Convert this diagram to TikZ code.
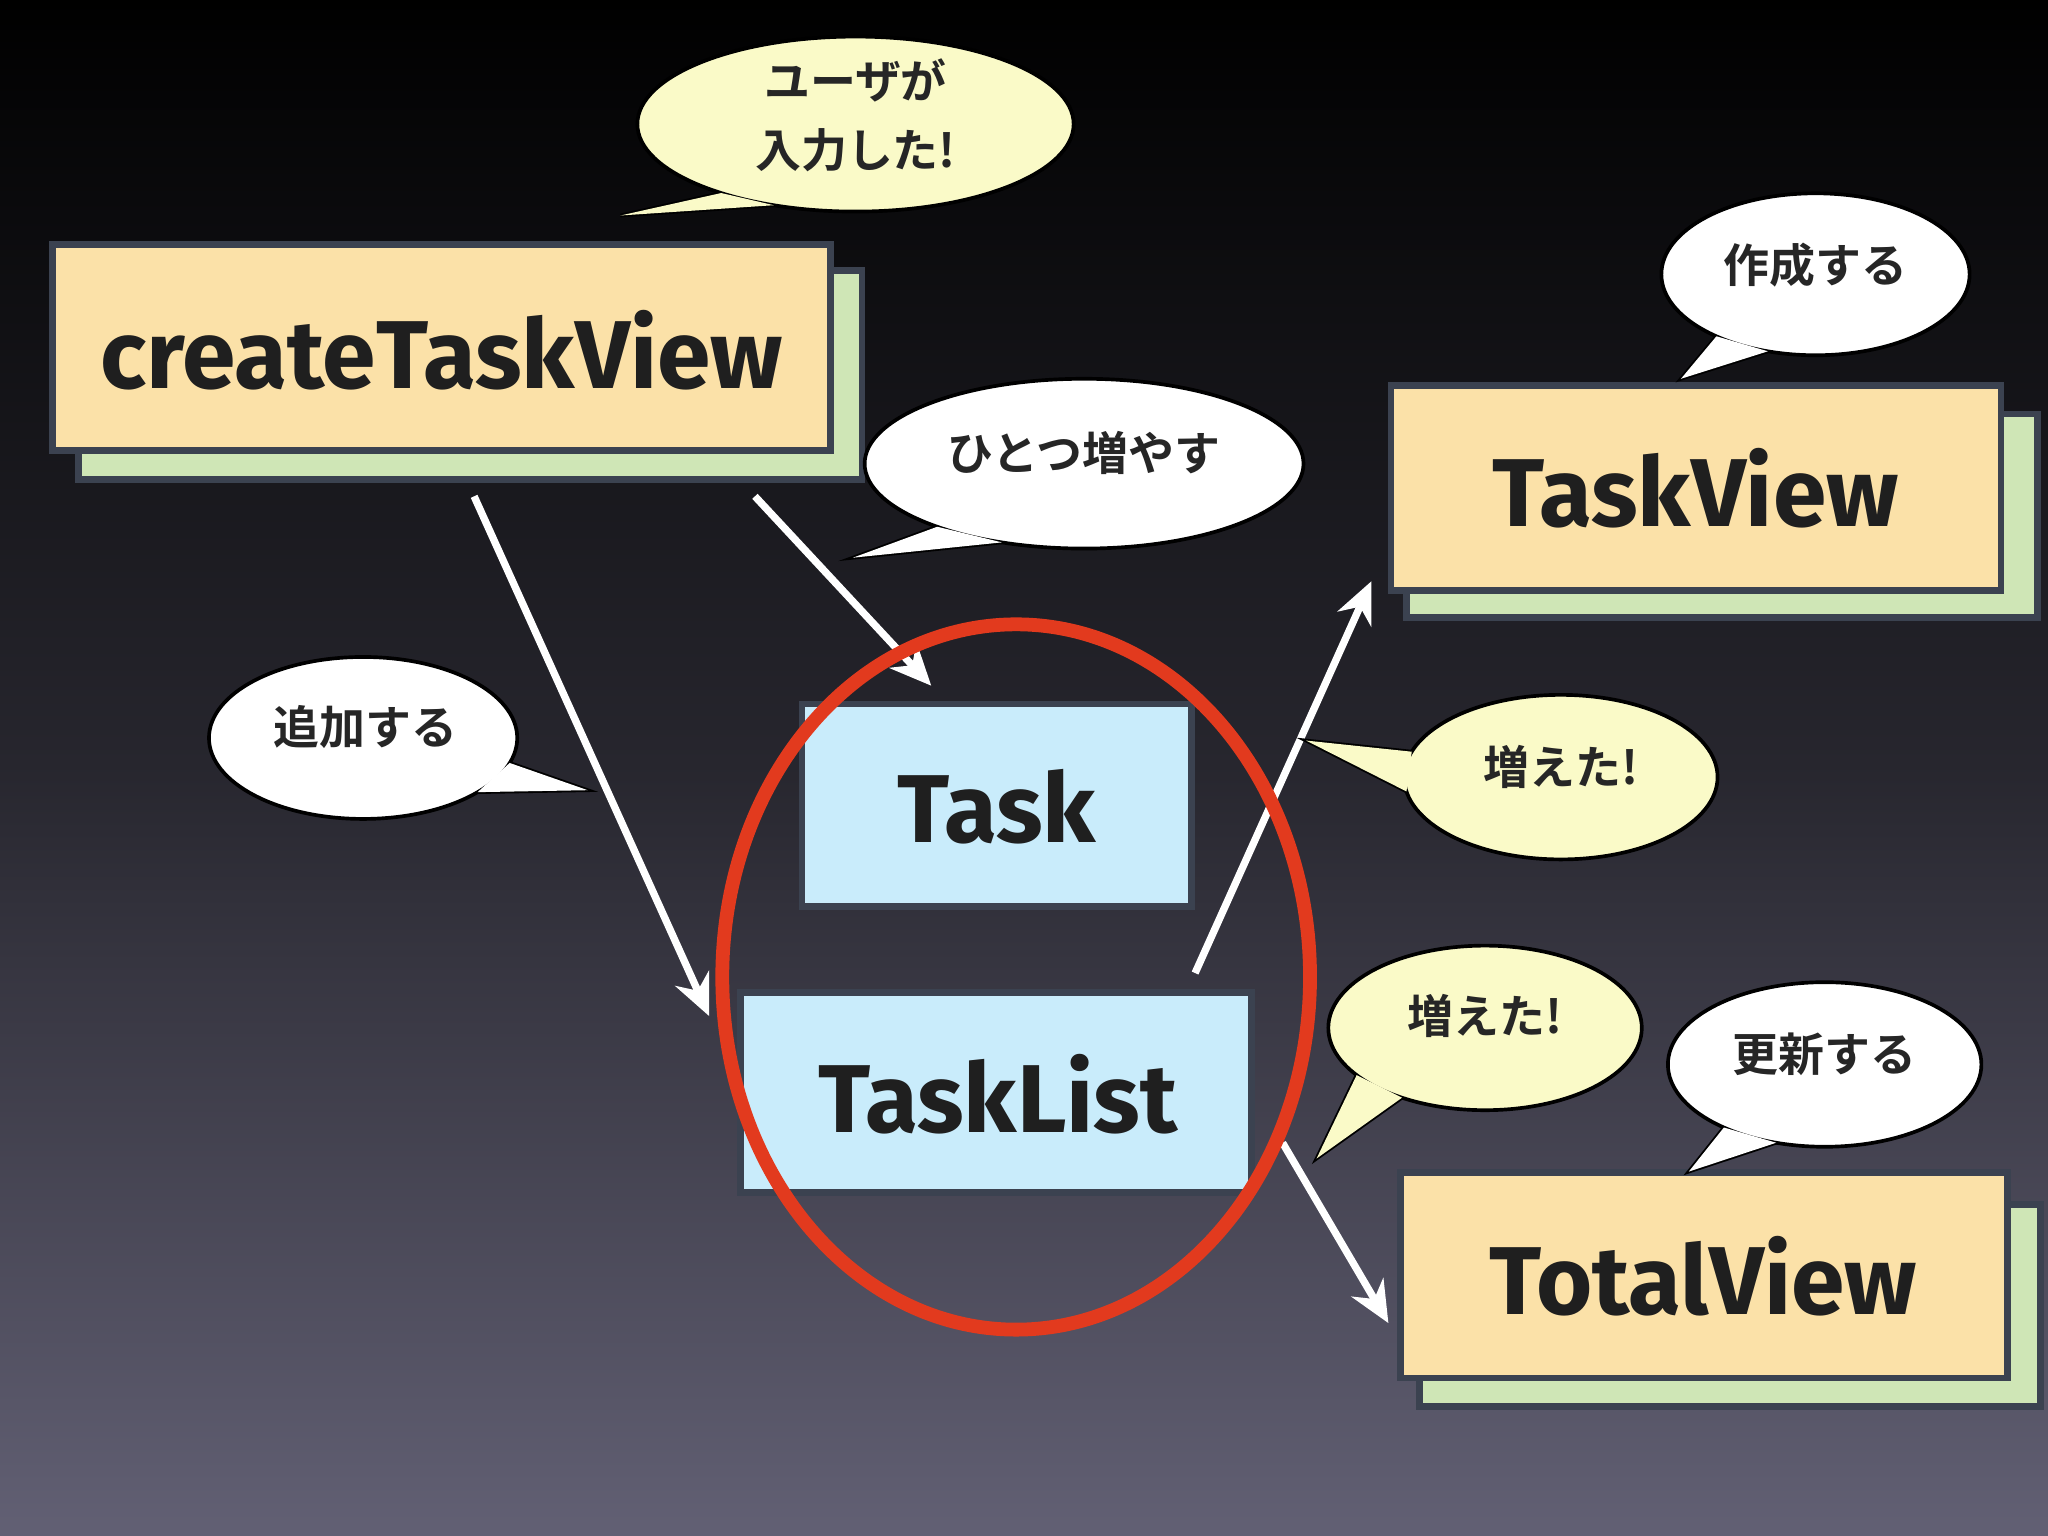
\documentclass[tikz,border=0pt]{standalone}
\usepackage{fontspec}
\setmainfont{Fira Sans}
\newfontfamily\cjk{Noto Sans CJK JP}[BoldFont={* Bold}]
\usetikzlibrary{shapes.geometric,arrows.meta,calc}
\definecolor{bgbot}{HTML}{626074}
\definecolor{boxline}{HTML}{3B4250}
\definecolor{ybox}{HTML}{FBE1A8}
\definecolor{gbox}{HTML}{CFE6B6}
\definecolor{bbox}{HTML}{C9ECFB}
\definecolor{ybub}{HTML}{FAFAC8}
\definecolor{ring}{HTML}{E23A1E}
\tikzset{
  back/.style={draw=boxline,line width=1.5pt,fill=gbox},
  frontbox/.style={draw=boxline,line width=1.5pt},
  boxtext/.style={font=\fontsize{21}{22}\selectfont\bfseries,text=black!88},
  conn/.style={draw=white,line width=1.6pt,-{Stealth[length=9pt,width=8pt]}},
  bubtext/.style={font=\cjk\bfseries\fontsize{10}{15}\selectfont,align=center,text=black!85}
}
% name, x, y, rx, ry, angle1, angle2, tip, fill, text
\newcommand{\mkbubble}[9]{%
 \coordinate (#1tip) at #8;
 \draw[black,line width=0.8pt,fill=#9] ($(#2,#3)+(#6:#4 and #5)$) -- (#1tip) -- ($(#2,#3)+(#7:#4 and #5)$);
 \draw[black,line width=0.8pt,fill=#9] (#2,#3) ellipse (#4 and #5);
 \fill[#9] ($(#2,#3)+(#6:#4 and #5)$) -- (#1tip) -- ($(#2,#3)+(#7:#4 and #5)$) -- cycle;
}
\begin{document}
\begin{tikzpicture}[x=0.01cm,y=-0.01cm]
\shade[top color=black,bottom color=bgbot,middle color=black!60!bgbot] (0,0) rectangle (1568,1176);
\useasboundingbox (0,0) rectangle (1568,1176);
% boxes
\draw[back] (60,207) rectangle (660,367);
\draw[frontbox,fill=ybox] (40,187) rectangle (636,345);
\node[boxtext] (ctv) at (338,268) {createTaskView};
\draw[back] (1077,317) rectangle (1560,473);
\draw[frontbox,fill=ybox] (1065,295) rectangle (1532,452);
\node[boxtext] (tv) at (1298,374) {TaskView};
\draw[back] (1087,922) rectangle (1562,1077);
\draw[frontbox,fill=ybox] (1072,898) rectangle (1537,1055);
\node[boxtext] (tot) at (1304,977) {TotalView};
\draw[frontbox,fill=bbox] (614,539) rectangle (912,694);
\node[boxtext] (task) at (763,618) {Task};
\draw[frontbox,fill=bbox] (567,760) rectangle (958,913);
\node[boxtext] (tl) at (764,838) {TaskList};
% arrows
\coordinate (a1) at (363,380); \coordinate (a1e) at (543,778);
\coordinate (a2) at (578,380); \coordinate (a2e) at (713,525);
\coordinate (a3) at (915,745); \coordinate (a3e) at (1050,445);
\coordinate (a4) at (982,875); \coordinate (a4e) at (1063,1013);
\draw[conn] (a1) -- (a1e);
\draw[conn] (a2) -- (a2e);
\draw[conn] (a3) -- (a3e);
\draw[conn] (a4) -- (a4e);
% ring
\draw[ring,line width=3pt] (778,748) ellipse (225 and 270);
% bubbles
\mkbubble{b1}{655}{95}{167}{67}{112}{128}{(475,165)}{ybub}
\node[bubtext] (b1) at (655,88) {ユーザが\\入力した!};
\mkbubble{b2}{1390}{210}{118}{62}{108}{130}{(1287,290)}{white}
\node[bubtext] (b2) at (1390,203) {作成する};
\mkbubble{b3}{830}{355}{168}{65}{112}{132}{(653,427)}{white}
\node[bubtext] (b3) at (830,347) {ひとつ増やす};
\mkbubble{b4}{278}{565}{118}{62}{18}{42}{(450,605)}{white}
\node[bubtext] (b4) at (280,557) {追加する};
\mkbubble{b5}{1195}{595}{120}{63}{170}{198}{(1000,567)}{ybub}
\node[bubtext] (b5) at (1195,587) {増えた!};
\mkbubble{b6}{1137}{787}{120}{63}{122}{145}{(1008,887)}{ybub}
\node[bubtext] (b6) at (1137,778) {増えた!};
\mkbubble{b7}{1397}{815}{120}{63}{108}{130}{(1293,897)}{white}
\node[bubtext] (b7) at (1397,807) {更新する};
\end{tikzpicture}
\end{document}
